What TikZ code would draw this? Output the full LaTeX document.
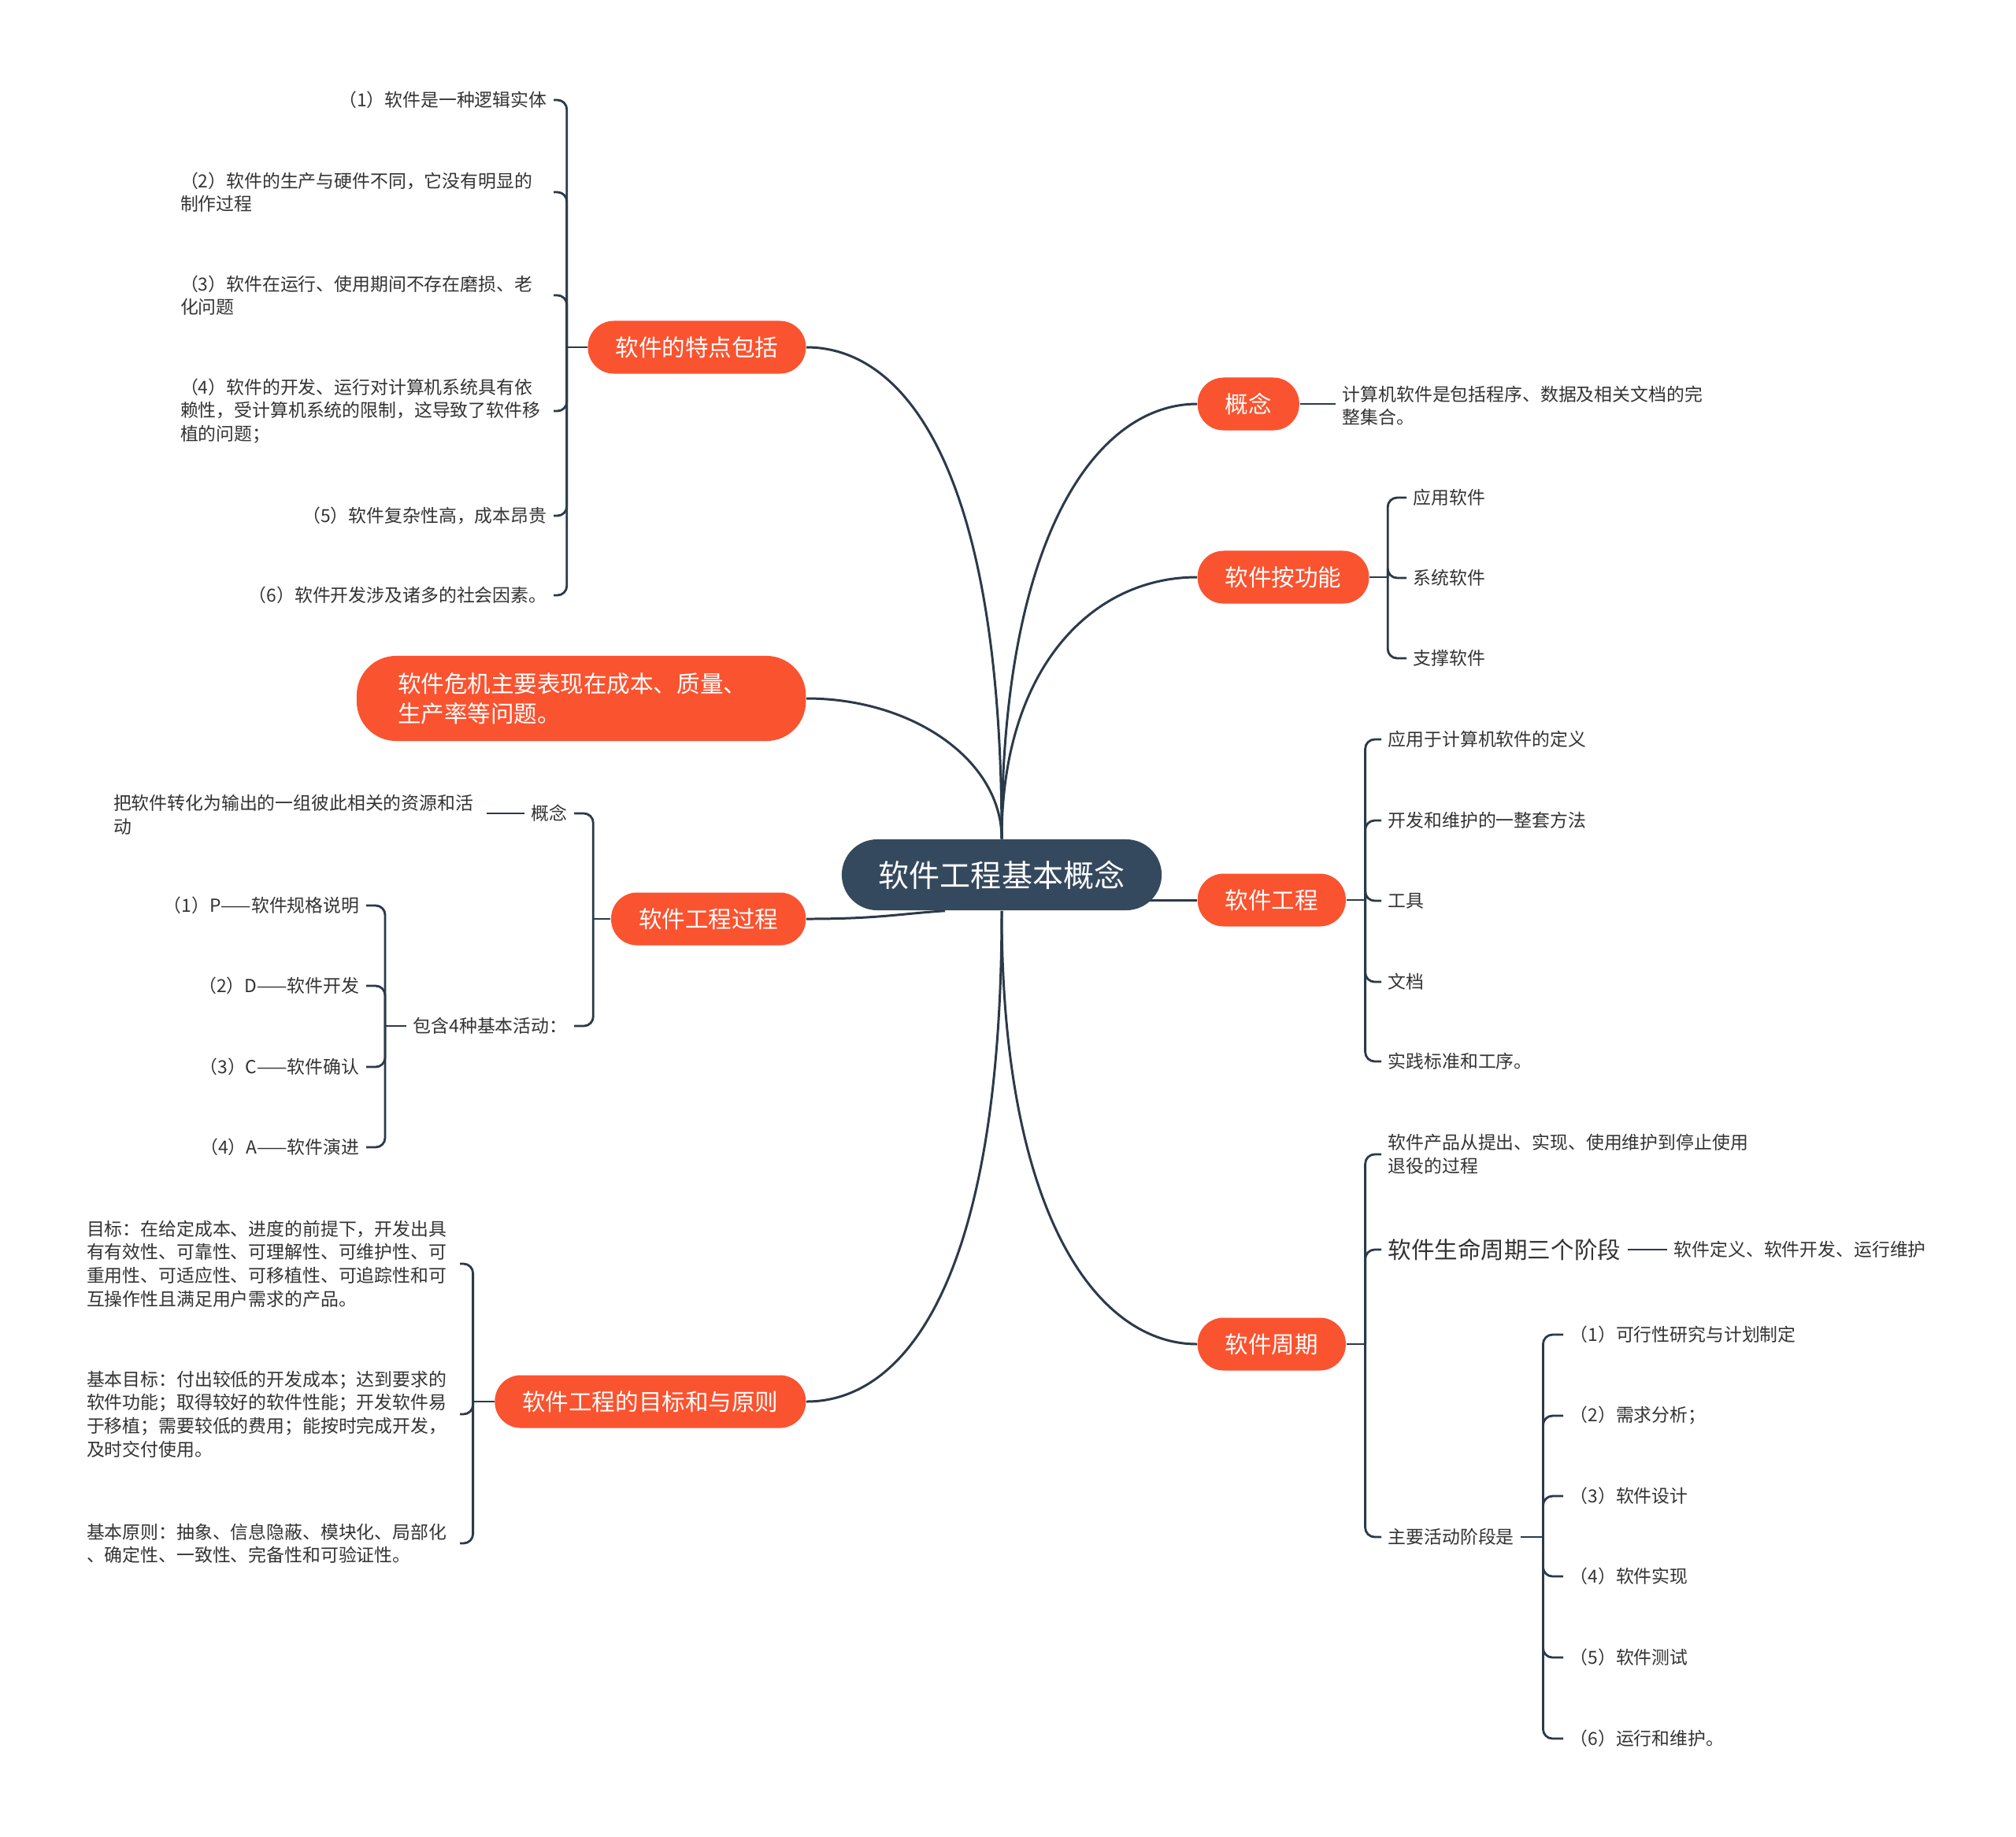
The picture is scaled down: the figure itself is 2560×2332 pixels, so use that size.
\documentclass[tikz,border=0pt]{standalone}
\usepackage{fontspec}
\setmainfont{Noto Sans CJK SC}
\usepackage{xcolor}
\usetikzlibrary{positioning,backgrounds,calc}
\definecolor{rootc}{HTML}{35495E}
\definecolor{topicc}{HTML}{FA5330}
\definecolor{linec}{HTML}{2B3A4A}
\definecolor{textc}{HTML}{333333}
\tikzset{
  root/.style={rectangle, rounded corners=0.45cm, fill=rootc, text=white,
    minimum width=4.06cm, minimum height=0.9cm, inner sep=0pt,
    font=\fontsize{11.1pt}{13pt}\selectfont},
  topic/.style={rectangle, rounded corners=0.33cm, fill=topicc, text=white,
    minimum height=0.67cm, inner xsep=0.35cm, inner ysep=0pt,
    font=\fontsize{8.4pt}{10.8pt}\selectfont},
  leaf/.style={text=textc, inner xsep=0.08cm, inner ysep=0.03cm,
    font=\fontsize{6.5pt}{8.4pt}\selectfont},
  para/.style={leaf, text width=4.65cm, align=left},
  link/.style={draw=linec, line width=0.85pt},
  brk/.style={draw=linec, line width=0.8pt, rounded corners=0.12cm},
}

\begin{document}
\begin{tikzpicture}[x=0.01cm, y=-0.01cm]
\useasboundingbox (0,0) rectangle (2560,2332);
% Central topic
\node[root] (root) at (1272,1111) {软件工程基本概念};
% Main topics, left
\node[topic, anchor=east] (tedian) at (1024,441) {软件的特点包括};
\node[topic, anchor=east, align=left, text width=4.66cm, minimum height=1.08cm,
      rounded corners=0.5cm, inner xsep=0.52cm] (weiji) at (1024,887)
      {软件危机主要表现在成本、质量、\\生产率等问题。};
\node[topic, anchor=east] (gcgc)   at (1024,1167) {软件工程过程};
\node[topic, anchor=east] (mubiao) at (1024,1780) {软件工程的目标和与原则};
% Main topics, right
\node[topic, anchor=west] (gainian)  at (1520,513)  {概念};
\node[topic, anchor=west] (gongneng) at (1520,733)  {软件按功能};
\node[topic, anchor=west] (rjgc)     at (1520,1143) {软件工程};
\node[topic, anchor=west] (zhouqi)   at (1520,1707) {软件周期};
% Features of software
\node[leaf, anchor=east] (a1) at (703,127) {（1）软件是一种逻辑实体};
\node[para, anchor=east] (a2) at (703,244) {（2）软件的生产与硬件不同，它没有明显的\\制作过程};
\node[para, anchor=east] (a3) at (703,375) {（3）软件在运行、使用期间不存在磨损、老\\化问题};
\node[para, anchor=east] (a4) at (703,522) {（4）软件的开发、运行对计算机系统具有依\\赖性，受计算机系统的限制，这导致了软件移\\植的问题；};
\node[leaf, anchor=east] (a5) at (703,655) {（5）软件复杂性高，成本昂贵};
\node[leaf, anchor=east] (a6) at (703,756) {（6）软件开发涉及诸多的社会因素。};
% Software engineering process
\node[leaf, anchor=east] (p1)  at (729,1033) {概念};
\node[para, anchor=east] (p1a) at (618,1035) {把软件转化为输出的一组彼此相关的资源和活\\动};
\node[leaf, anchor=east] (p2)  at (729,1303) {包含4种基本活动：};
\node[leaf, anchor=east] (q1) at (465,1150) {（1）P——软件规格说明};
\node[leaf, anchor=east] (q2) at (465,1252) {（2）D——软件开发};
\node[leaf, anchor=east] (q3) at (465,1355) {（3）C——软件确认};
\node[leaf, anchor=east] (q4) at (465,1457) {（4）A——软件演进};
% Goals and principles
\node[para, anchor=east] (m1) at (584,1605) {目标：在给定成本、进度的前提下，开发出具\\有有效性、可靠性、可理解性、可维护性、可\\重用性、可适应性、可移植性、可追踪性和可\\互操作性且满足用户需求的产品。};
\node[para, anchor=east] (m2) at (584,1796) {基本目标：付出较低的开发成本；达到要求的\\软件功能；取得较好的软件性能；开发软件易\\于移植；需要较低的费用；能按时完成开发，\\及时交付使用。};
\node[para, anchor=east] (m3) at (584,1960) {基本原则：抽象、信息隐蔽、模块化、局部化\\、确定性、一致性、完备性和可验证性。};
% Concept
\node[para, anchor=west] (g1) at (1696,515) {计算机软件是包括程序、数据及相关文档的完\\整集合。};
% By function
\node[leaf, anchor=west] (f1) at (1786,632) {应用软件};
\node[leaf, anchor=west] (f2) at (1786,734) {系统软件};
\node[leaf, anchor=west] (f3) at (1786,836) {支撑软件};
% Software engineering
\node[leaf, anchor=west] (r1) at (1754,939)  {应用于计算机软件的定义};
\node[leaf, anchor=west] (r2) at (1754,1042) {开发和维护的一整套方法};
\node[leaf, anchor=west] (r3) at (1754,1144) {工具};
\node[leaf, anchor=west] (r4) at (1754,1247) {文档};
\node[leaf, anchor=west] (r5) at (1754,1348) {实践标准和工序。};
% Life cycle
\node[para, anchor=west] (z1) at (1754,1466) {软件产品从提出、实现、使用维护到停止使用\\退役的过程};
\node[leaf, anchor=west, font=\fontsize{8.4pt}{10.8pt}\selectfont] (z2) at (1754,1587) {软件生命周期三个阶段};
\node[leaf, anchor=west] (z2a) at (2117,1587) {软件定义、软件开发、运行维护};
\node[leaf, anchor=west] (z3) at (1754,1952) {主要活动阶段是};
\node[leaf, anchor=west] (s1) at (1985,1695) {（1）可行性研究与计划制定};
\node[leaf, anchor=west] (s2) at (1985,1798) {（2）需求分析；};
\node[leaf, anchor=west] (s3) at (1985,1900) {（3）软件设计};
\node[leaf, anchor=west] (s4) at (1985,2002) {（4）软件实现};
\node[leaf, anchor=west] (s5) at (1985,2105) {（5）软件测试};
\node[leaf, anchor=west] (s6) at (1985,2208) {（6）运行和维护。};
% Bracket junctions
\coordinate (sA) at ($(tedian.west)+(-26,0)$);
\coordinate (sP) at ($(gcgc.west)+(-22,0)$);
\coordinate (sQ) at ($(p2.west)+(-27,0)$);
\coordinate (sM) at ($(mubiao.west)+(-27,0)$);
\coordinate (sG) at ($(gongneng.east)+(23,0)$);
\coordinate (sR) at ($(rjgc.east)+(24,0)$);
\coordinate (sZ) at ($(zhouqi.east)+(24,0)$);
\coordinate (sS) at ($(z3.east)+(28,0)$);
\begin{scope}[on background layer]
  \fill[white] (0,0) rectangle (2560,2332);
  % Curved links from the central topic
  \draw[link] (root.north) .. controls +(0,-470) and +(125,0) .. (tedian.east);
  \draw[link] (root.north) .. controls +(0,-100) and +(135,0) .. (weiji.east);
  \draw[link] (root.north) .. controls +(0,-390) and +(-125,0) .. (gainian.west);
  \draw[link] (root.north) .. controls +(0,-215) and +(-135,0) .. (gongneng.west);
  \draw[link] (root.center |- rjgc.west) -- (rjgc.west);
  \draw[link] (gcgc.east) .. controls +(90,0) and +(-60,4) .. ($(root.south)+(-72,0)$);
  \draw[link] (root.south) .. controls +(0,470) and +(125,0) .. (mubiao.east);
  \draw[link] (root.south) .. controls +(0,390) and +(-125,0) .. (zhouqi.west);
  % Brackets, left side
  \draw[brk] (tedian.west) -- (sA);
  \foreach \n in {a1,a2,a3,a4,a5,a6} \draw[brk] (sA) |- (\n.east);
  \draw[brk] (gcgc.west) -- (sP);
  \foreach \n in {p1,p2} \draw[brk] (sP) |- (\n.east);
  \draw[brk] (p1.west) -- (p1.west -| p1a.east);
  \draw[brk] (p2.west) -- (sQ);
  \foreach \n in {q1,q2,q3,q4} \draw[brk] (sQ) |- (\n.east);
  \draw[brk] (mubiao.west) -- (sM);
  \foreach \n in {m1,m2,m3} \draw[brk] (sM) |- (\n.east);
  % Brackets, right side
  \draw[brk] (gainian.east) -- (gainian.east -| g1.west);
  \draw[brk] (gongneng.east) -- (sG);
  \foreach \n in {f1,f2,f3} \draw[brk] (sG) |- (\n.west);
  \draw[brk] (rjgc.east) -- (sR);
  \foreach \n in {r1,r2,r3,r4,r5} \draw[brk] (sR) |- (\n.west);
  \draw[brk] (zhouqi.east) -- (sZ);
  \foreach \n in {z1,z2,z3} \draw[brk] (sZ) |- (\n.west);
  \draw[brk] (z2.east) -- (z2a.west);
  \draw[brk] (z3.east) -- (sS);
  \foreach \n in {s1,s2,s3,s4,s5,s6} \draw[brk] (sS) |- (\n.west);
\end{scope}
\end{tikzpicture}
\end{document}
